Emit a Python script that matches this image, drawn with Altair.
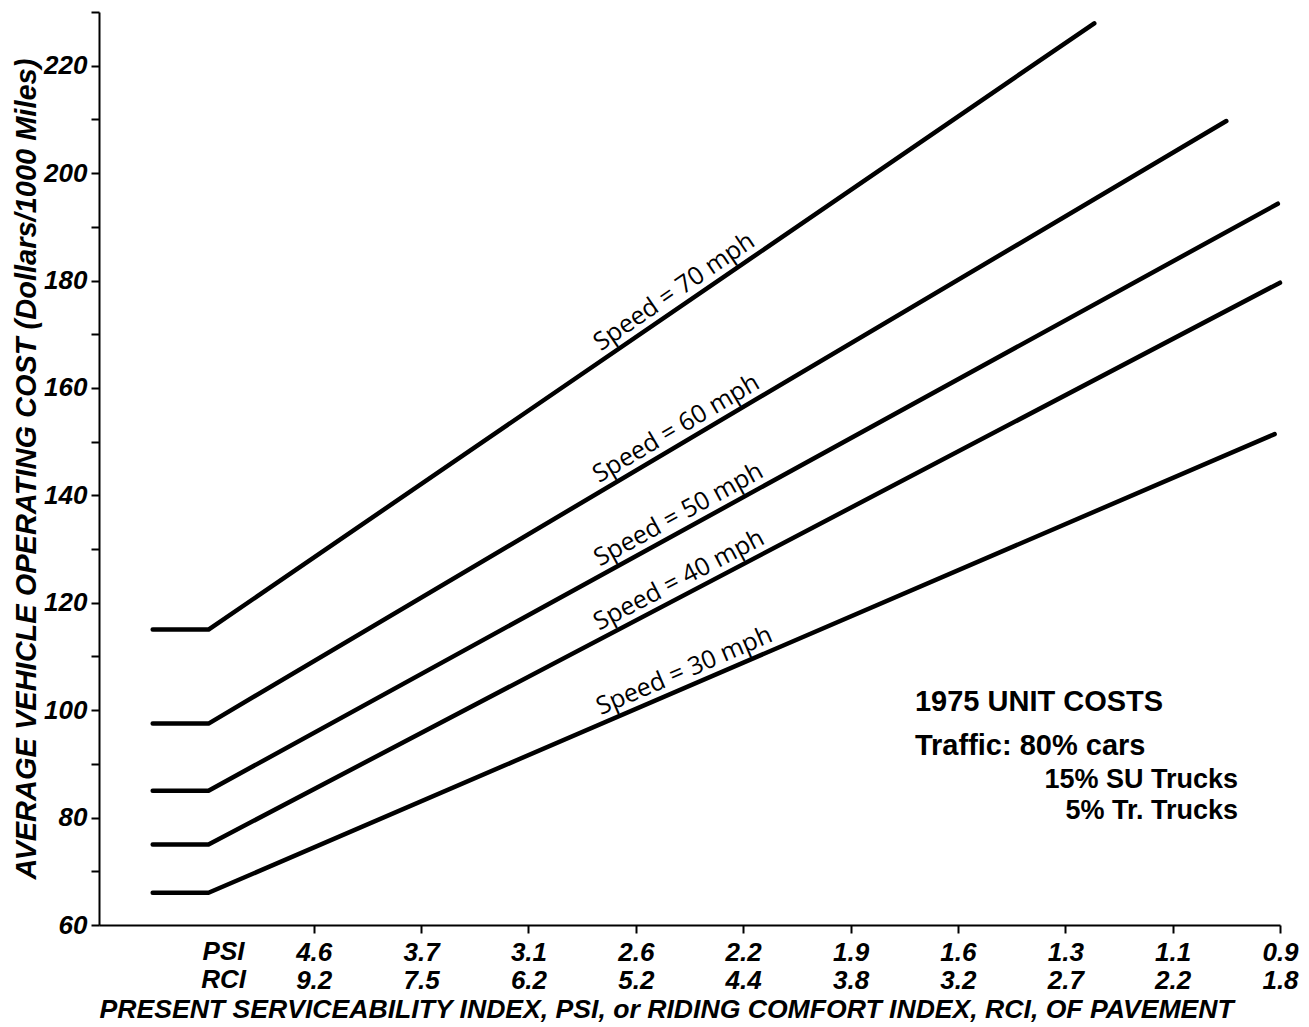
import math
import altair as alt
import pandas as pd

# ---- data ----
speeds = ["Speed = 70 mph", "Speed = 60 mph", "Speed = 50 mph", "Speed = 40 mph", "Speed = 30 mph"]
x_start = [0.5, 0.5, 0.5, 0.5, 0.5]          # start of flat part
x_bend = [1.02, 1.02, 1.02, 1.02, 1.02]       # end of flat part
x_end = [9.27, 10.5, 10.98, 11.0, 10.95]      # end of sloped part
y_flat = [115, 97.5, 85, 75, 66]
y_end = [227.9, 209.7, 194.3, 179.6, 151.4]
label_x = [5.44, 5.45, 5.47, 5.47, 5.51]

tick_pos = [2, 3, 4, 5, 6, 7, 8, 9, 10, 11]
psi = ["4.6", "3.7", "3.1", "2.6", "2.2", "1.9", "1.6", "1.3", "1.1", "0.9"]
rci = ["9.2", "7.5", "6.2", "5.2", "4.4", "3.8", "3.2", "2.7", "2.2", "1.8"]

y_ticks = list(range(60, 231, 10))

note_left = ["1975 UNIT COSTS", "Traffic: 80% cars"]
note_left_x = [7.6, 7.6]
note_left_y = [99.9, 91.6]
note_right = ["15% SU Trucks", "5% Tr. Trucks"]
note_right_x = [10.61, 10.61]
note_right_y = [85.5, 79.8]

W, H = 1181, 913
X_DOM = [0, 11]
Y_DOM = [60, 230]

# ---- tables ----
rows = []
for s, xs, xb, xe, yf, ye in zip(speeds, x_start, x_bend, x_end, y_flat, y_end):
    rows += [
        {"speed": s, "x": xs, "y": yf, "o": 0},
        {"speed": s, "x": xb, "y": yf, "o": 1},
        {"speed": s, "x": xe, "y": ye, "o": 2},
    ]
lines_df = pd.DataFrame(rows)

px_x = W / (X_DOM[1] - X_DOM[0])
px_y = H / (Y_DOM[1] - Y_DOM[0])
lab_rows = []
for s, xb, xe, yf, ye, lx in zip(speeds, x_bend, x_end, y_flat, y_end, label_x):
    slope = (ye - yf) / (xe - xb)
    ly = yf + slope * (lx - xb)
    ang = math.degrees(math.atan(slope * px_y / px_x))
    lab_rows.append({"speed": s, "x": lx, "y": ly, "angle": 360 - ang})
labels_df = pd.DataFrame(lab_rows)

xscale = alt.Scale(domain=X_DOM, nice=False, zero=False)
yscale = alt.Scale(domain=Y_DOM, nice=False, zero=False)

label_expr = "[" + ",".join(f"['{p}','{r}']" for p, r in zip(psi, rci)) + f"][datum.value - {tick_pos[0]}]"

FONT = "Liberation Sans"

lines = alt.Chart(lines_df).mark_line(color="black", strokeWidth=4.5, strokeCap="round", strokeJoin="round").encode(
    x=alt.X("x:Q", scale=xscale, axis=alt.Axis(
        values=tick_pos, labelExpr=label_expr, grid=False,
        title="PRESENT SERVICEABILITY INDEX, PSI, or RIDING COMFORT INDEX, RCI, OF PAVEMENT",
        titleAnchor="start", titleFontSize=26.6, titleFontStyle="italic", titleFontWeight="bold",
        titleFont=FONT, titlePadding=3,
        labelFont=FONT, labelFontSize=26, labelFontStyle="italic", labelFontWeight="bold",
        labelLineHeight=28, labelPadding=6, labelFlush=False, labelOverlap=False,
        tickSize=8, tickWidth=2, domainWidth=2, tickColor="black", domainColor="black",
        labelColor="black", titleColor="black")),
    y=alt.Y("y:Q", scale=yscale, axis=alt.Axis(
        values=y_ticks, labelExpr="datum.value % 20 == 0 ? datum.label : ''", grid=False,
        title="AVERAGE VEHICLE OPERATING COST  (Dollars/1000 Miles)",
        titleFontSize=29, titleFontStyle="italic", titleFontWeight="bold", titleFont=FONT,
        titlePadding=2,
        labelFont=FONT, labelFontSize=26, labelFontStyle="italic", labelFontWeight="bold",
        labelPadding=4, labelOverlap=False, labelFlush=False,
        tickSize=8, tickWidth=2, domainWidth=2, tickColor="black", domainColor="black",
        labelColor="black", titleColor="black")),
    detail="speed:N",
    order="o:Q",
)

speed_labels = alt.Chart(labels_df).mark_text(
    font="Open Sans", fontSize=25, color="black", align="center", baseline="bottom", dy=-3
).encode(
    x=alt.X("x:Q", scale=xscale),
    y=alt.Y("y:Q", scale=yscale),
    text="speed:N",
    angle=alt.Angle("angle:Q", scale=None),
)

row_names = alt.Chart(pd.DataFrame({"x": [1.16], "t": ["PSI\nRCI"]})).mark_text(
    font=FONT, fontSize=26, fontStyle="italic", fontWeight="bold", color="black",
    align="center", baseline="top", lineBreak="\n", lineHeight=28
).encode(
    x=alt.X("x:Q", scale=xscale),
    y=alt.value(H + 14),
    text="t:N",
)

notes_l = alt.Chart(pd.DataFrame({"x": note_left_x, "y": note_left_y, "t": note_left})).mark_text(
    font=FONT, fontSize=29, fontWeight="bold", color="black", align="left", baseline="alphabetic"
).encode(x=alt.X("x:Q", scale=xscale), y=alt.Y("y:Q", scale=yscale), text="t:N")

notes_r = alt.Chart(pd.DataFrame({"x": note_right_x, "y": note_right_y, "t": note_right})).mark_text(
    font=FONT, fontSize=27, fontWeight="bold", color="black", align="right", baseline="alphabetic"
).encode(x=alt.X("x:Q", scale=xscale), y=alt.Y("y:Q", scale=yscale), text="t:N")

chart = alt.layer(lines, speed_labels, row_names, notes_l, notes_r).properties(
    width=W, height=H,
    autosize=alt.AutoSizeParams(type="none"),
    padding={"left": 91, "top": 4, "right": 21, "bottom": 100},
    background="white",
).configure_view(stroke=None)

chart.save("out.html", embed_options={"renderer": "svg", "actions": False})
